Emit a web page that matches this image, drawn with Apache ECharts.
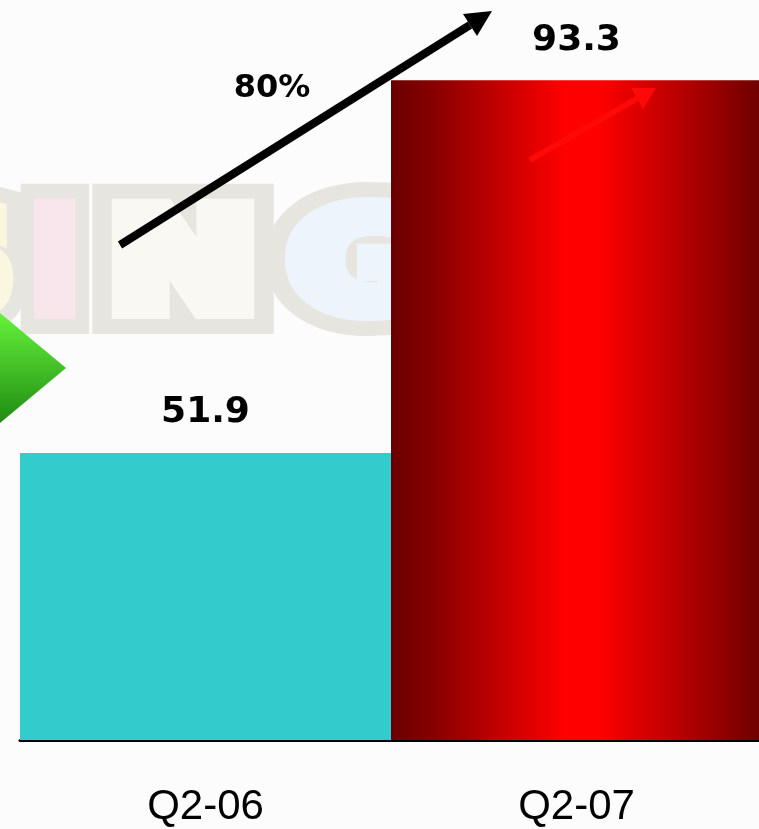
<!DOCTYPE html>
<html>
<head>
<meta charset="utf-8">
<script src="https://cdn.jsdelivr.net/npm/echarts@6/dist/echarts.min.js"></script>
<style>
  html, body { margin: 0; padding: 0; background: #fcfcfc; }
  #chart { width: 759px; height: 829px; }
</style>
</head>
<body>
<div id="chart"></div>
<script>
// Quarterly figures
const quarters = ['Q2-06', 'Q2-07'];
const values = [51.9, 93.3];
const growthLabel = '80%';

const tealFill = '#33cccc';
const redFill = {
  type: 'linear', x: 0, y: 0, x2: 1, y2: 0,
  colorStops: [
    { offset: 0, color: '#6a0000' },
    { offset: 0.12, color: '#8a0000' },
    { offset: 0.47, color: '#ff0000' },
    { offset: 0.56, color: '#ff0000' },
    { offset: 0.85, color: '#a00000' },
    { offset: 1, color: '#6c0000' }
  ]
};
const barFills = [tealFill, redFill];

const chart = echarts.init(document.getElementById('chart'), null, { renderer: 'canvas' });

// Faint brand lettering behind the bars: a wide grey outline, then a pastel body
const letterFont = 'bold 137px "DejaVu Sans"';
function letter(ch, x, sx, fill) {
  const base = {
    type: 'text', silent: true, x: x, y: 273, scaleX: sx
  };
  return [
    Object.assign({}, base, {
      z: -20,
      style: {
        text: ch, x: 0, y: 0, font: letterFont,
        align: 'center', verticalAlign: 'middle',
        fill: '#e7e5df', stroke: '#e7e5df', lineWidth: 50, lineJoin: 'round'
      }
    }),
    Object.assign({}, base, {
      z: -10,
      style: {
        text: ch, x: 0, y: 0, font: letterFont,
        align: 'center', verticalAlign: 'middle',
        fill: fill, stroke: fill, lineWidth: 20, lineJoin: 'round'
      }
    })
  ];
}

chart.setOption({
  backgroundColor: '#fcfcfc',
  animation: false,
  grid: { left: 20, top: 20, width: 742, bottom: 89, outerBoundsMode: 'none' },
  xAxis: {
    type: 'category',
    data: quarters,
    axisLine: { show: true, lineStyle: { color: '#000', width: 3 } },
    axisTick: { show: false },
    axisLabel: {
      margin: 46,
      fontFamily: '"Liberation Sans", Arial, sans-serif',
      fontSize: 42,
      color: '#000'
    }
  },
  yAxis: {
    type: 'value', min: 20, max: 100, show: false,
    splitLine: { show: false }
  },
  series: [{
    type: 'bar',
    barWidth: '100%',
    barCategoryGap: 0,
    data: values.map((v, i) => ({ value: v, itemStyle: { color: barFills[i] } })),
    label: {
      show: true,
      position: 'top',
      distance: 22,
      fontFamily: '"DejaVu Sans", Verdana, sans-serif',
      fontWeight: 'bold',
      fontSize: 36,
      color: '#000'
    }
  }],
  graphic: [].concat(
    letter('S', -36, 1, '#fbf6e0'),
    letter('I', 55, 0.9, '#f8e6ec'),
    letter('N', 183, 1.3, '#faf8f2'),
    letter('G', 362, 1.3, '#eef4fb'),
    [
      // green pointer at the left edge
      {
        type: 'polygon', z: 5, silent: true,
        shape: { points: [[0, 313], [66, 368], [0, 423]] },
        style: {
          fill: {
            type: 'linear', x: 0, y: 0, x2: 0, y2: 1,
            colorStops: [
              { offset: 0, color: '#66f23c' },
              { offset: 1, color: '#1f8c12' }
            ]
          }
        }
      },
      // growth arrow
      {
        type: 'polyline', z: 50, silent: true,
        shape: { points: [[120, 245], [470, 25]] },
        style: { stroke: '#000', lineWidth: 8, fill: null }
      },
      {
        type: 'polygon', z: 50, silent: true,
        shape: { points: [[492, 11], [477, 36], [463, 14]] },
        style: { fill: '#000' }
      },
      {
        type: 'text', z: 50, silent: true,
        style: {
          text: growthLabel, x: 272, y: 89,
          font: 'bold 32px "DejaVu Sans"',
          align: 'center', verticalAlign: 'middle', fill: '#000'
        }
      },
      // faint arrow inside the red bar
      {
        type: 'polyline', z: 20, silent: true,
        shape: { points: [[530, 160], [638, 98]] },
        style: { stroke: '#ff0808', lineWidth: 6, fill: null }
      },
      {
        type: 'polygon', z: 20, silent: true,
        shape: { points: [[656, 88], [643, 109], [631, 88]] },
        style: { fill: '#ff0808' }
      }
    ]
  )
});
</script>
</body>
</html>
